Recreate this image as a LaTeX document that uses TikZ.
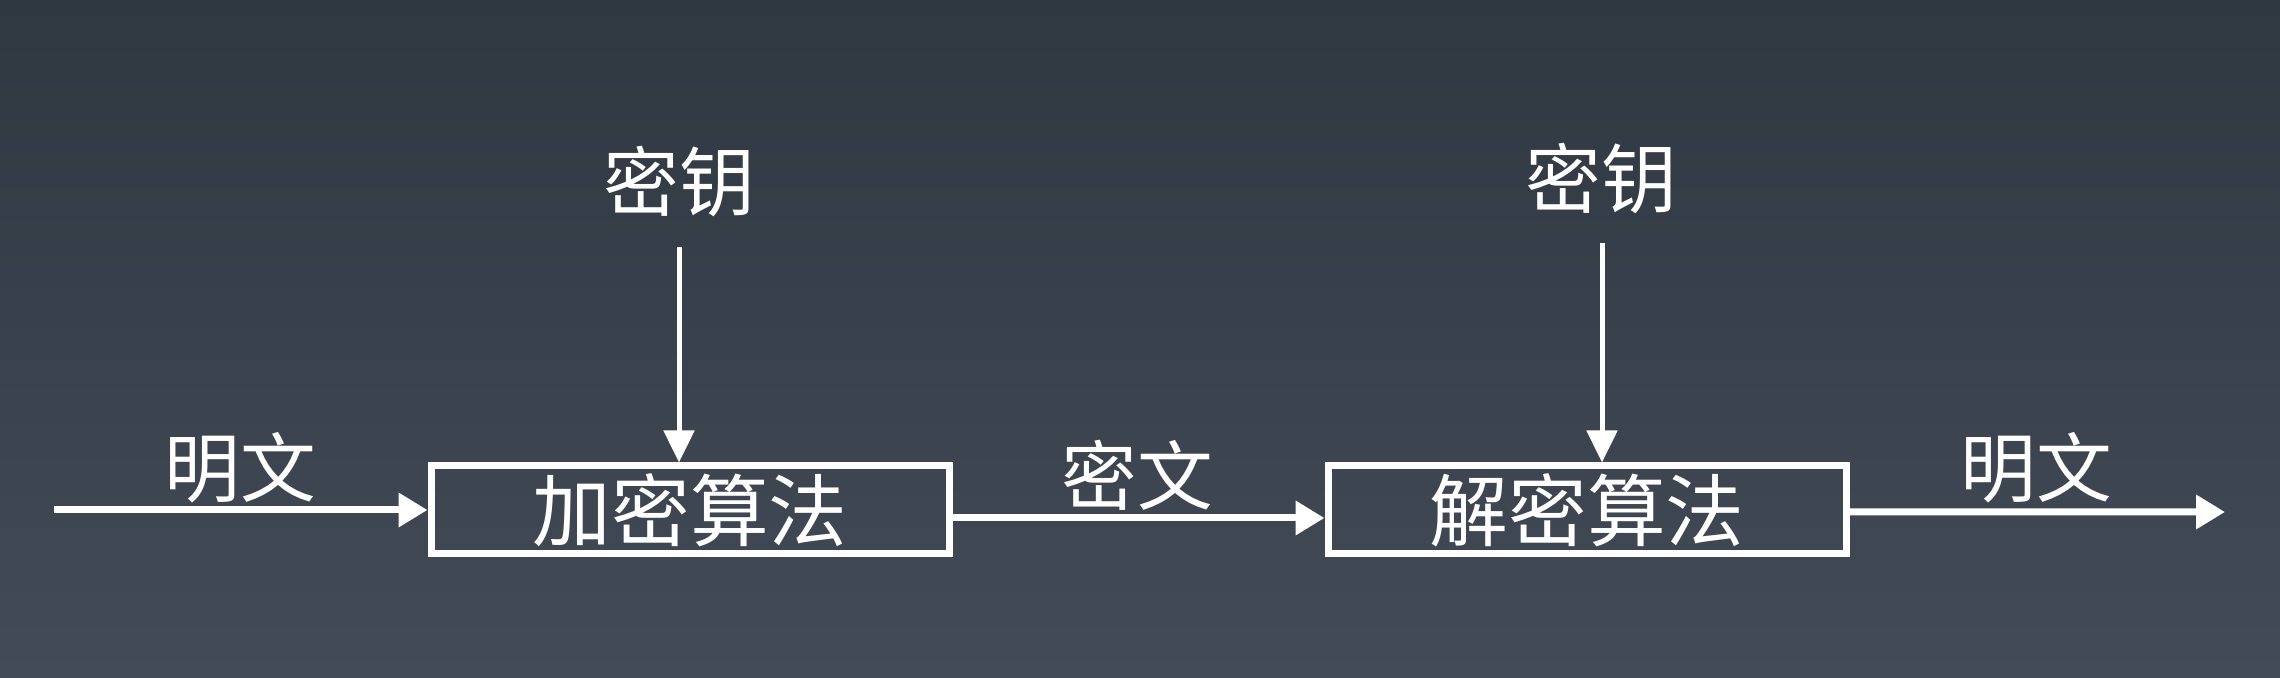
\documentclass[tikz,border=0pt]{standalone}
\usepackage{fontspec}
\newfontfamily\cjk{Noto Sans CJK SC}
\usetikzlibrary{arrows.meta}
\begin{document}
\begin{tikzpicture}[x=1bp,y=1bp,
  lbl/.style={text=white,font=\cjk\fontsize{76}{86}\selectfont,inner sep=0pt},
  algbox/.style={draw=white,line width=7bp,minimum width=518bp,minimum height=88bp,inner sep=0pt,text=white,font=\cjk\fontsize{79}{89}\selectfont},
  harrow/.style={draw=white,line width=7bp,-{Triangle[length=29bp,width=33bp]}},
  varrow/.style={draw=white,line width=5bp,-{Triangle[length=32bp,width=30bp]}}]
\shade[top color={rgb,255:red,47;green,55;blue,65},bottom color={rgb,255:red,67;green,75;blue,87}] (0,0) rectangle (2280,678);
\useasboundingbox (0,0) rectangle (2280,678);
\node[algbox] (a) at (690,168) {加密算法};
\node[algbox] (b) at (1587,168) {解密算法};
\node[lbl] (p1) at (240,210) {明文};
\node[lbl] (k1t) at (679,496) {密钥};
\node[lbl] (c) at (1137,203) {密文};
\node[lbl] (k2t) at (1601,499) {密钥};
\node[lbl] (p2) at (2036,210) {明文};
\coordinate (in) at (54,168);
\coordinate (out) at (2225,166);
\coordinate (k1) at (679,431);
\coordinate (k2) at (1602,435);
\draw[harrow] (in) -- (a.west);
\draw[harrow] ([yshift=-8bp]a.east) -- ([yshift=-8bp]b.west);
\draw[harrow] ([yshift=-2bp]b.east) -- (out);
\draw[varrow] (k1) -- (k1 |- a.north);
\draw[varrow] (k2) -- (k2 |- b.north);
\end{tikzpicture}
\end{document}
